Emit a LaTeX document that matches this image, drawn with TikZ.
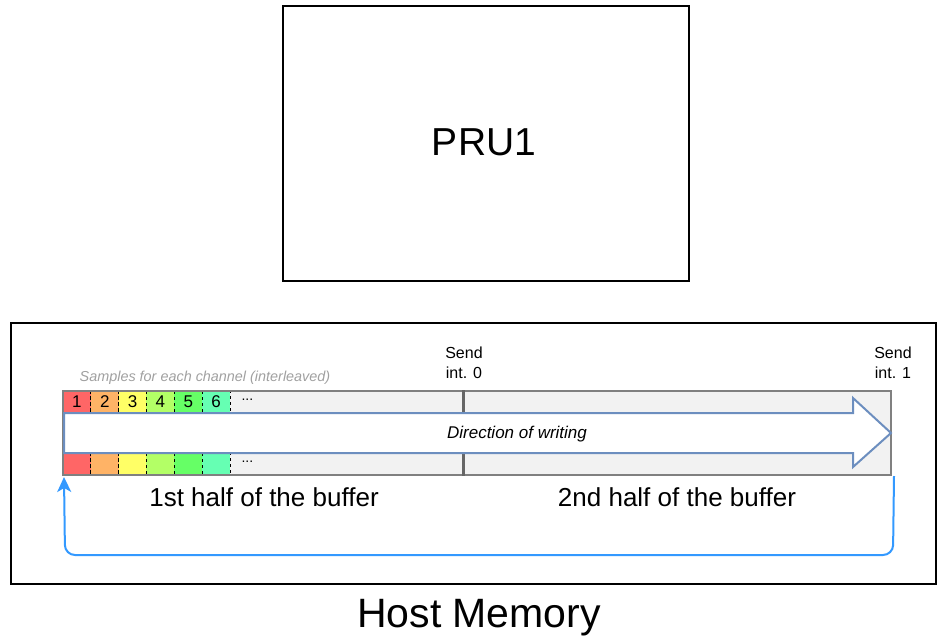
\documentclass[tikz,border=0pt]{standalone}
\usepackage{fontspec}
\setmainfont{Liberation Sans}
\usetikzlibrary{arrows.meta}
\definecolor{cA}{HTML}{FF6666}
\definecolor{cB}{HTML}{FFB366}
\definecolor{cC}{HTML}{FFFF66}
\definecolor{cD}{HTML}{B3FF66}
\definecolor{cE}{HTML}{66FF66}
\definecolor{cF}{HTML}{66FFB3}
\definecolor{bufgray}{HTML}{F2F2F2}
\definecolor{bufline}{HTML}{808080}
\definecolor{arrblue}{HTML}{6C8EBF}
\definecolor{loopblue}{HTML}{3399FF}
\definecolor{lbl}{HTML}{A0A0A0}
\tikzset{
  bigbox/.style={draw=black, line width=2pt, inner sep=0pt},
  cellbox/.style={draw=black, dashed, line width=0.8pt, minimum width=27.83pt, minimum height=22pt, inner sep=0pt, font=\fontsize{17}{18}\selectfont},
  sendlbl/.style={align=center, font=\fontsize{16}{20}\selectfont},
  halflbl/.style={font=\fontsize{26}{28}\selectfont},
}
\begin{document}
\begin{tikzpicture}[x=1pt,y=-1pt]
\useasboundingbox (0,0) rectangle (937,638);
% PRU1
\node[bigbox, minimum width=406pt, minimum height=275pt] (pru) at (486,143.5) {};
\node[font=\fontsize{39}{42}\selectfont] (prut) at (484,142) {PRU1};
% Host memory
\node[bigbox, minimum width=925pt, minimum height=261pt] (host) at (473,453.5) {};
\node[font=\fontsize{41}{44}\selectfont] (hostt) at (479,618) {Host Memory};
% buffer
\node[fill=bufgray, minimum width=828pt, minimum height=84pt, inner sep=0pt] (buf) at (477,433) {};
\foreach \c [count=\i] in {cA,cB,cC,cD,cE,cF}{
  \node[cellbox, fill=\c] (t\i) at ({63+27.83*(\i-0.5)},402) {\i};
  \node[cellbox, fill=\c] (b\i) at ({63+27.83*(\i-0.5)},464) {};
}
\node[draw=bufline, line width=2pt, minimum width=828pt, minimum height=84pt, inner sep=0pt] (bufo) at (477,433) {};
\draw[draw=black!60, line width=3pt] (bufo.north -| 463,0) -- (bufo.south -| 463,0);
\node[font=\fontsize{14}{16}\selectfont, anchor=west] (dots1) at (238,400) {...};
\node[font=\fontsize{14}{16}\selectfont, anchor=west] (dots2) at (238,462) {...};
% direction arrow
\draw[draw=arrblue, fill=white, line width=2pt, line join=miter]
  (64,413) -- (853,413) -- (853,398) -- (891,433) -- (853,467) -- (853,453) -- (64,453) -- cycle;
\node[font=\fontsize{17}{19}\selectfont\itshape] (dir) at (517,434) {Direction of writing};
% labels
\node[font=\fontsize{14.4}{16}\selectfont\itshape, text=lbl] (samp) at (205,378) {Samples for each channel (interleaved)};
\node[sendlbl] (s0) at (464,363) {Send\\int. 0};
\node[sendlbl] (s1) at (893,363) {Send\\int. 1};
\node[halflbl] (h1) at (264,497) {1st half of the buffer};
\node[halflbl] (h2) at (677,497) {2nd half of the buffer};
% loop
\coordinate (ls) at ([xshift=2pt]bufo.south east);
\coordinate (le) at ([xshift=2pt,yshift=-1pt]bufo.south west);
\draw[draw=loopblue, line width=2pt, rounded corners=10pt, -{Stealth[length=15pt,width=14pt,inset=4pt]}]
  (ls) -- (893,555) -- (65,555) -- (le);
\end{tikzpicture}
\end{document}
